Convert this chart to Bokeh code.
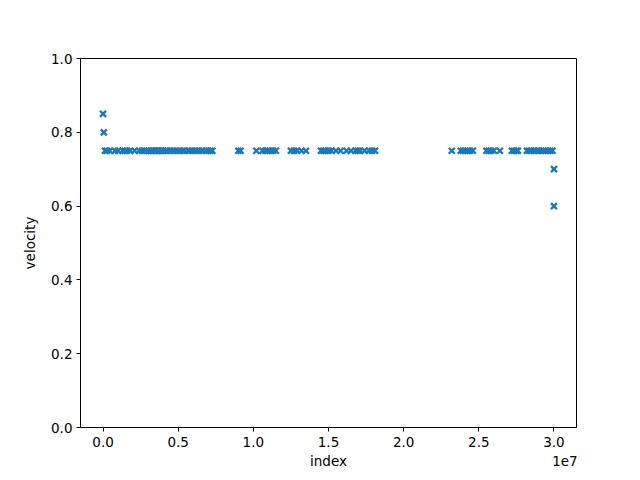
from bokeh.plotting import figure
from bokeh.models import (Range1d, FixedTicker, CustomJSTickFormatter, LinearAxis,
                          ColumnDataSource)
from bokeh.embed import file_html
from bokeh.resources import INLINE

# index positions (in units of 1e6) of samples at velocity 0.75
idx_075_m = [0.13, 0.25, 0.45, 0.8, 1.0, 1.3, 1.45, 1.6, 1.8, 2.1, 2.4, 2.6, 2.75, 2.9,
             3.05, 3.2, 3.3, 3.4, 3.5, 3.6, 3.7, 3.8, 3.9, 4.0, 4.15, 4.3, 4.5, 4.7, 4.9,
             5.1, 5.3, 5.45, 5.7, 5.9, 6.1, 6.25, 6.4, 6.6, 6.85, 7.0, 7.15, 7.27,
             9.0, 9.15,
             10.2, 10.6, 10.8, 10.95, 11.1, 11.3, 11.5,
             12.5, 12.7, 12.9, 13.2, 13.5,
             14.5, 14.65, 14.8, 15.0, 15.2, 15.5, 15.8, 16.2, 16.5, 16.8, 16.95, 17.1,
             17.4, 17.7, 17.9, 18.1,
             23.2, 23.8, 23.95, 24.1, 24.25, 24.4, 24.6,
             25.5, 25.65, 25.8, 26.0, 26.4,
             27.2, 27.35, 27.5, 27.6,
             28.2, 28.35, 28.5, 28.7, 28.9, 29.0, 29.15, 29.3, 29.45, 29.6, 29.75, 29.9]
vel_075 = [0.75] * len(idx_075_m)

# other samples
idx_other_m = [0.0, 0.05, 30.0, 30.0]
vel_other = [0.85, 0.80, 0.70, 0.60]

index = [v * 1e6 for v in idx_075_m + idx_other_m]
velocity = vel_075 + vel_other

x_ticks = [0, 5e6, 10e6, 15e6, 20e6, 25e6, 30e6]
y_ticks = [0.0, 0.2, 0.4, 0.6, 0.8, 1.0]
x_title = "index"
y_title = "velocity"
x_offset_text = "1e7"

FONT = "DejaVu Sans"

p = figure(width=632, height=472, output_backend="svg", toolbar_location=None,
           x_range=Range1d(-1.5e6, 31.5e6), y_range=Range1d(0, 1),
           min_border_left=80, min_border_right=56, min_border_top=58, min_border_bottom=45)
p.grid.visible = False
p.outline_line_color = "black"
p.outline_line_width = 1
p.background_fill_color = "white"
p.border_fill_color = "white"

src = ColumnDataSource(dict(index=index, velocity=velocity))
p.scatter("index", "velocity", source=src, marker="x", size=8.5, line_width=2.4,
          line_color="#1f77b4")

p.xaxis.ticker = FixedTicker(ticks=x_ticks)
p.xaxis.formatter = CustomJSTickFormatter(code="return (tick/1e7).toFixed(1);")
p.yaxis.ticker = FixedTicker(ticks=y_ticks)
p.yaxis.formatter = CustomJSTickFormatter(code="return tick.toFixed(1);")

for ax in (p.xaxis, p.yaxis):
    ax.axis_line_color = "black"
    ax.major_tick_line_color = "black"
    ax.major_tick_out = 4
    ax.major_tick_in = 0
    ax.minor_tick_line_color = None
    ax.major_label_text_font = FONT
    ax.major_label_text_font_size = "13.5px"
    ax.major_label_text_color = "black"
    ax.axis_label_text_font = FONT
    ax.axis_label_text_font_size = "13.5px"
    ax.axis_label_text_font_style = "normal"
    ax.axis_label_text_color = "black"

p.yaxis.axis_label = y_title
p.xaxis.major_label_standoff = 5
p.yaxis.major_label_standoff = 4
p.yaxis.axis_label_standoff = 10

# second row below the x axis: the axis title and the offset text "1e7"
title_row = LinearAxis(
    ticker=FixedTicker(ticks=[15e6, 30.73e6]),
    formatter=CustomJSTickFormatter(
        args=dict(t=x_title, o=x_offset_text),
        code="return tick < 2e7 ? t : o;"),
    axis_line_color=None, major_tick_line_color=None, minor_tick_line_color=None,
    major_tick_out=0, major_tick_in=0, major_label_standoff=3,
    major_label_text_font=FONT, major_label_text_font_size="13.5px",
    major_label_text_color="black")
p.add_layout(title_row, "below")

open("out.html", "w").write(file_html(p, INLINE))
